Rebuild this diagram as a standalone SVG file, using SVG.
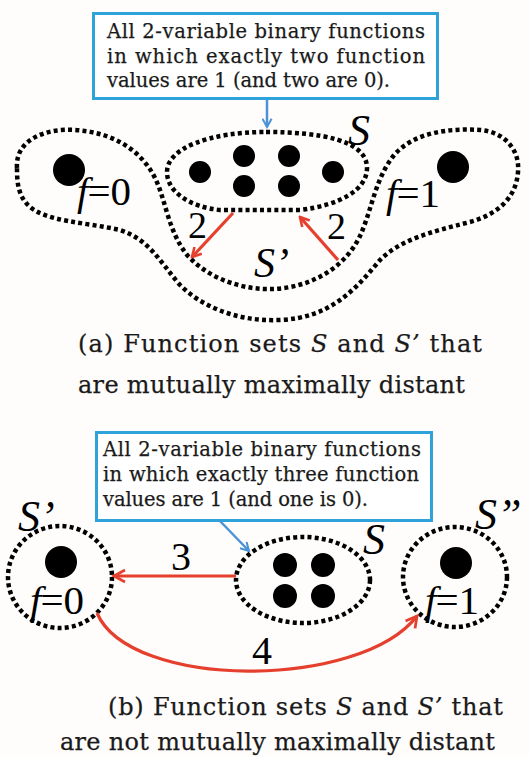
<svg xmlns="http://www.w3.org/2000/svg" width="529" height="757" viewBox="0 0 529 757">
<style>
.bg{fill:#fffdfc}
.dot{fill:#000}
.set{fill:none;stroke:#000;stroke-width:4.5;stroke-dasharray:4 3.2}
.box{fill:#fff;stroke:#2ea3da;stroke-width:3}
.btxt{font-family:"DejaVu Serif","Liberation Serif",serif;font-size:19.5px;fill:#1a1a1a;stroke:#1a1a1a;stroke-width:0.25}
.cap{font-family:"DejaVu Serif","Liberation Serif",serif;font-size:24px;fill:#1a1a1a;stroke:#1a1a1a;stroke-width:0.25}
.math{font-family:"Liberation Serif","DejaVu Serif",serif;font-style:italic;fill:#000}
.num{font-family:"Liberation Serif","DejaVu Serif",serif;fill:#000}
.red{fill:none;stroke:#e5402e;stroke-width:3.2}
.blue{fill:none;stroke:#4b93d6;stroke-width:2.5}
</style>
<defs>
<marker id="rh" viewBox="0 0 12 12" refX="10" refY="6" markerWidth="12" markerHeight="12" markerUnits="userSpaceOnUse" orient="auto">
<polyline points="1,1 10,6 1,11" fill="none" stroke="#e5402e" stroke-width="2.6"/>
</marker>
<marker id="rh2" viewBox="0 0 16 16" refX="13" refY="8" markerWidth="16" markerHeight="16" markerUnits="userSpaceOnUse" orient="auto">
<polyline points="2,2 13,8 2,14" fill="none" stroke="#e5402e" stroke-width="2.8"/>
</marker>
<marker id="bh" viewBox="0 0 12 12" refX="10" refY="6" markerWidth="11" markerHeight="11" markerUnits="userSpaceOnUse" orient="auto">
<polyline points="1,1 10,6 1,11" fill="none" stroke="#4b93d6" stroke-width="2.2"/>
</marker>
</defs>
<rect class="bg" x="0" y="0" width="529" height="757"/>

<!-- Part (a) -->
<g id="box-a">
<rect class="box" x="93.5" y="13.5" width="344" height="85"/>
<text class="btxt" x="107" y="38" textLength="318" lengthAdjust="spacing">All 2-variable binary functions</text>
<text class="btxt" x="107" y="63" textLength="318" lengthAdjust="spacing">in which exactly two function</text>
<text class="btxt" x="107" y="87" textLength="283" lengthAdjust="spacing">values are 1 (and two are 0).</text>
</g>

<g id="set-Sprime-a">
<path class="set" d="M 17,168 C 15,140 45,128 75,130 C 110,132 140,148 155,178 C 166,200 168,232 188,256 C 210,280 245,290 272,289 C 310,288 345,268 360,236 C 372,210 375,178 395,154 C 415,132 450,128 480,130 C 505,132 520,150 518,172 C 516,200 495,215 470,222 C 430,232 400,240 380,260 C 355,290 330,318 280,320 C 235,322 200,305 180,285 C 160,262 150,240 120,230 C 85,222 45,222 28,205 C 18,195 17,182 17,168 Z"/>
<text class="math" x="254" y="277" font-size="42">S’</text>
</g>

<g id="node-f0-a">
<circle class="dot" cx="69" cy="170" r="16"/>
<text x="77" y="205" font-size="41"><tspan class="math">f</tspan><tspan class="num" dx="-1">=0</tspan></text>
</g>

<g id="node-f1-a">
<circle class="dot" cx="453" cy="167" r="16"/>
<text x="386" y="207" font-size="41"><tspan class="math">f</tspan><tspan class="num" dx="-1">=1</tspan></text>
</g>

<g id="set-S-a">
<path class="set" d="M 266,132 C 320,132 367,140 367,168 C 367,190 340,205 300,210 L 220,210 C 190,207 167,192 167,172 C 167,148 210,132 266,132 Z"/>
<circle class="dot" cx="200" cy="172" r="11"/>
<circle class="dot" cx="244" cy="156" r="11"/>
<circle class="dot" cx="289" cy="156" r="11"/>
<circle class="dot" cx="244" cy="186" r="11"/>
<circle class="dot" cx="289" cy="186" r="11"/>
<circle class="dot" cx="333" cy="172" r="11"/>
<text class="math" x="348" y="145" font-size="44">S</text>
</g>

<g id="connectors-a">
<line class="blue" x1="267" y1="100" x2="267" y2="127" marker-end="url(#bh)"/>
<line class="red" x1="233" y1="213" x2="192" y2="257" marker-end="url(#rh)"/>
<line class="red" x1="338" y1="260" x2="300" y2="217" marker-end="url(#rh)"/>
<text class="num" x="188" y="238" font-size="38">2</text>
<text class="num" x="327" y="239" font-size="38">2</text>
</g>

<g id="caption-a">
<text class="cap" x="78" y="352" textLength="404" lengthAdjust="spacing">(a) Function sets <tspan font-style="italic">S</tspan> and <tspan font-style="italic">S’</tspan> that</text>
<text class="cap" x="78" y="393" textLength="387" lengthAdjust="spacing">are mutually maximally distant</text>
</g>

<!-- Part (b) -->
<g id="box-b">
<rect class="box" x="96.5" y="432.5" width="335" height="88"/>
<text class="btxt" x="103" y="456" textLength="318" lengthAdjust="spacing">All 2-variable binary functions</text>
<text class="btxt" x="103" y="481" textLength="316" lengthAdjust="spacing">in which exactly three function</text>
<text class="btxt" x="103" y="506" textLength="265" lengthAdjust="spacing">values are 1 (and one is 0).</text>
</g>

<g id="node-Sprime-b">
<ellipse class="set" cx="60" cy="577" rx="52" ry="51"/>
<circle class="dot" cx="61" cy="562" r="16"/>
<text x="30" y="614" font-size="41"><tspan class="math">f</tspan><tspan class="num" dx="-1">=0</tspan></text>
<text class="math" x="18" y="531" font-size="44">S’</text>
</g>

<g id="node-S-b">
<ellipse class="set" cx="303" cy="580" rx="67" ry="43"/>
<circle class="dot" cx="285" cy="565" r="12"/>
<circle class="dot" cx="323" cy="565" r="12"/>
<circle class="dot" cx="285" cy="596" r="12"/>
<circle class="dot" cx="323" cy="596" r="12"/>
<text class="math" x="363" y="554" font-size="44">S</text>
</g>

<g id="node-Sdprime-b">
<ellipse class="set" cx="455" cy="577" rx="52" ry="50"/>
<circle class="dot" cx="456" cy="563" r="16"/>
<text x="425" y="614" font-size="41"><tspan class="math">f</tspan><tspan class="num" dx="-1">=1</tspan></text>
<text class="math" x="475" y="529" font-size="44">S”</text>
</g>

<g id="connectors-b">
<line class="blue" x1="220" y1="521" x2="249" y2="551" marker-end="url(#bh)"/>
<line class="red" x1="236" y1="576" x2="114" y2="576" marker-end="url(#rh2)"/>
<path class="red" d="M 97,613 C 130,690 360,690 417,616" marker-end="url(#rh2)"/>
<text class="num" x="171" y="570" font-size="40">3</text>
<text class="num" x="252" y="664" font-size="40">4</text>
</g>

<g id="caption-b">
<text class="cap" x="108" y="715" textLength="395" lengthAdjust="spacing">(b) Function sets <tspan font-style="italic">S</tspan> and <tspan font-style="italic">S’</tspan>  that</text>
<text class="cap" x="60" y="750" textLength="435" lengthAdjust="spacing">are not mutually maximally distant</text>
</g>
</svg>
